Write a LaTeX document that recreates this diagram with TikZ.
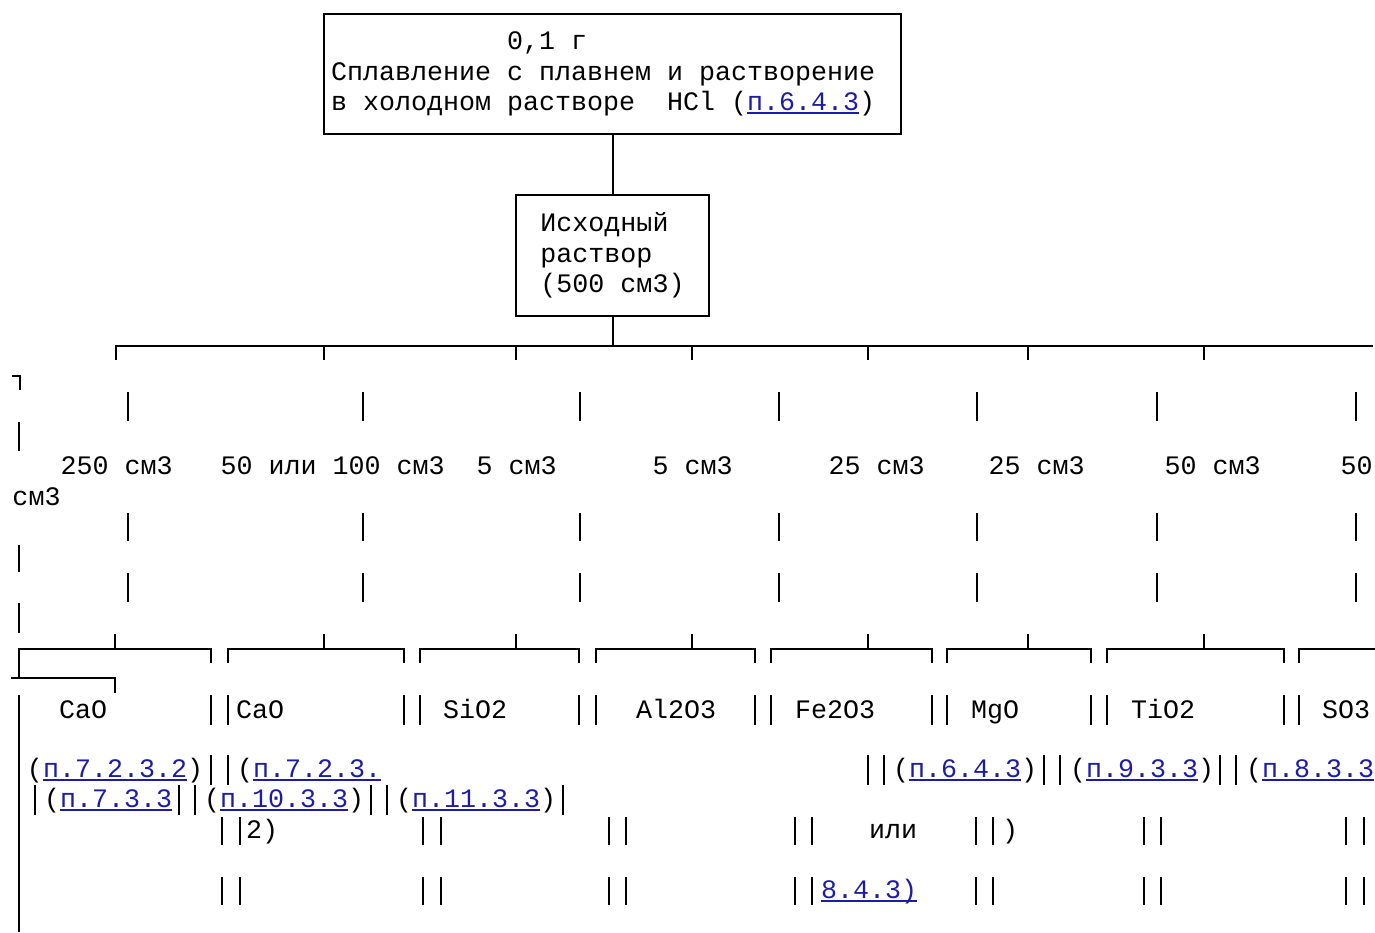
\documentclass[tikz,border=0pt]{standalone}
\usepackage{fontspec}
\setmonofont{Liberation Mono}
\usetikzlibrary{positioning}
\definecolor{linkblue}{RGB}{28,28,165}
\newcommand{\lnk}[1]{{\color{linkblue}\setbox0\hbox{#1}\rlap{\copy0}\rule[-3.5pt]{\wd0}{1.8pt}}}

\begin{document}
\begin{tikzpicture}[x=1pt,y=-1pt,line width=2pt]
  \tikzstyle{mono}=[font=\ttfamily\fontsize{26.67}{30.5}\selectfont, text=black]
  \tikzstyle{txt}=[mono, inner sep=0pt, anchor=base west]
  \tikzstyle{box}=[mono, rectangle, draw=black, line width=2pt, align=flush left]
  \tikzstyle{bar}=[line width=2.2pt]

  \useasboundingbox (0,0) rectangle (1375,932);

  \node[box, text width=563pt, inner xsep=7pt, minimum height=120pt, anchor=north west] at (323,13) (top)
    {\spaceskip0pt\xspaceskip0pt\hspace*{176pt}0,1 г\\Сплавление с плавнем и растворение\\в холодном растворе~ HCl (\lnk{п.6.4.3})};
  \node[box, minimum width=193pt, minimum height=121pt] (stock) [below=59pt of top]
    {Исходный\\раствор\\(500 см3)};
  \draw (top) -- (stock);

  % bus to the portions
  \coordinate (busL) at (116,346);
  \coordinate (busR) at (1373,346);
  \draw (stock) -- (stock |- busL);
  \draw (116,360) -- (busL) -- (busR);
  \foreach \x in {324,516,692,868,1028,1204} \draw (\x,346) -- (\x,360);
  \draw (12,376) -- (19.5,376) -- (19.5,390);

  \foreach \x in {128,363,580,779,977,1157,1356} {
    \draw[bar] (\x,392) -- (\x,421);
    \draw[bar] (\x,513) -- (\x,541);
    \draw[bar] (\x,573) -- (\x,602);
  }
  \foreach \ya/\yb in {422/451,545/572,603/633} \draw[bar] (19,\ya) -- (19,\yb);

  \foreach \c/\t [count=\i] in {3/250 см3, 13/50 или 100 см3, 29/5 см3, 40/5 см3, 51/25 см3, 61/25 см3, 72/50 см3, 83/50}
    \node[txt] (vol\i) at ({11.5+16*\c},474) {\t};
  \node[txt] (vol9) at (11.5,505) {см3};

  % brackets over the determinations
  \draw (19,678) -- (19,649) -- (211,649) -- (211,663);
  \draw (115,634) -- (115,649);
  \draw (11,678) -- (115,678) -- (115,693);
  \foreach \l/\t/\r in {228/324/404, 420/516/579, 596/692/755, 771/868/932, 947/1028/1091, 1107/1204/1284} {
    \draw (\l,663) -- (\l,649) -- (\r,649) -- (\r,663);
    \draw (\t,634) -- (\t,649);
  }
  \draw (1299,663) -- (1299,649) -- (1375,649);
  \draw[bar] (19,695) -- (19,932);

  \foreach \x/\t [count=\i] in {58/CaO, 235/CaO, 442/SiO2, 635/Al2O3, 794/Fe2O3, 970/MgO, 1130/TiO2, 1321/SO3}
    \node[txt] (ox\i) at (\x,718) {\t};

  \foreach \x in {211,228,404,420,579,596,755,771,932,947,1091,1107,1284,1299} \draw[bar] (\x,695) -- (\x,725);
  \foreach \x in {211,228,868,884,1044,1060,1220,1236} \draw[bar] (\x,755) -- (\x,785);
  \foreach \x in {35,179,195,371,387,563} \draw[bar] (\x,785) -- (\x,815);
  \foreach \x in {222,240,423,441,609,626,795,812,976,993,1144,1161,1346,1364} {
    \draw[bar] (\x,817) -- (\x,845);
    \draw[bar] (\x,877) -- (\x,905);
  }

  \node[txt] (ref1) at (26,777) {(\lnk{п.7.2.3.2})};
  \node[txt] (ref2) at (236,777) {(\lnk{п.7.2.3.}};
  \node[txt] (ref3) at (892,777) {(\lnk{п.6.4.3})};
  \node[txt] (ref4) at (1069,777) {(\lnk{п.9.3.3})};
  \node[txt] (ref5) at (1245,777) {(\lnk{п.8.3.3}};
  \node[txt] (ref6) at (43,807) {(\lnk{п.7.3.3}};
  \node[txt] (ref7) at (203,807) {(\lnk{п.10.3.3})};
  \node[txt] (ref8) at (395,807) {(\lnk{п.11.3.3})};
  \node[txt] (ref9) at (245,838) {2)};
  \node[txt] (alt) at (868,838) {или};
  \node[txt] (close) at (1001,838) {)};
  \node[txt] (ref10) at (820,898) {\lnk{8.4.3)}};
\end{tikzpicture}
\end{document}
